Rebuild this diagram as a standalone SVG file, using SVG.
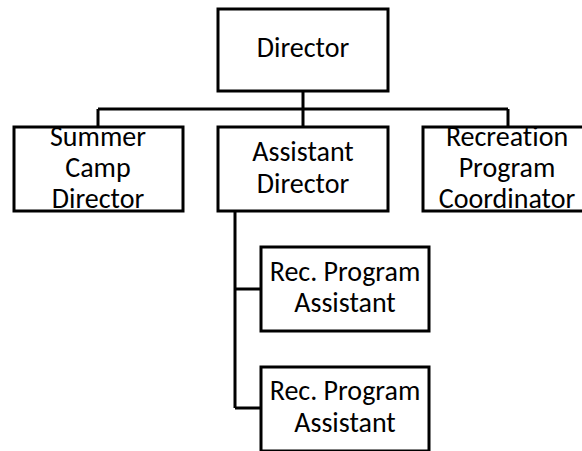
<svg xmlns="http://www.w3.org/2000/svg" width="582" height="451" viewBox="0 0 582 451">
<style>
.box{fill:#fff;stroke:#000;stroke-width:3}
.lbl{font-family:"Carlito","Open Sans","Liberation Sans",sans-serif;font-size:28px;fill:#000;text-anchor:middle;font-variant-ligatures:none}
.conn{fill:none;stroke:#000;stroke-width:3}
</style>
<rect width="582" height="451" fill="#fff"/>
<g id="connectors">
<path class="conn" d="M303 91V109M98 109H508M98 109V127M303 109V127M508 109V127"/>
<path class="conn" d="M235 211V408M235 289H261M235 408H261"/>
</g>
<g id="director">
<rect class="box" x="218" y="9" width="170" height="82"/>
<text class="lbl" x="303" y="57">Director</text>
</g>
<g id="summer-camp-director">
<rect class="box" x="14" y="127" width="169" height="84"/>
<text class="lbl" x="98" y="146">Summer</text>
<text class="lbl" x="98" y="177">Camp</text>
<text class="lbl" x="98" y="208">Director</text>
</g>
<g id="assistant-director">
<rect class="box" x="218" y="127" width="170" height="84"/>
<text class="lbl" x="303" y="161">Assistant</text>
<text class="lbl" x="303" y="193">Director</text>
</g>
<g id="recreation-program-coordinator">
<rect class="box" x="423" y="127" width="169" height="84"/>
<text class="lbl" x="507" y="146">Recreation</text>
<text class="lbl" x="507" y="177">Program</text>
<text class="lbl" x="507" y="208">Coordinator</text>
</g>
<g id="rec-program-assistant-1">
<rect class="box" x="261" y="247" width="168" height="84"/>
<text class="lbl" x="345" y="281">Rec. Program</text>
<text class="lbl" x="345" y="312">Assistant</text>
</g>
<g id="rec-program-assistant-2">
<rect class="box" x="261" y="367" width="168" height="84"/>
<text class="lbl" x="345" y="400">Rec. Program</text>
<text class="lbl" x="345" y="432">Assistant</text>
</g>
</svg>
